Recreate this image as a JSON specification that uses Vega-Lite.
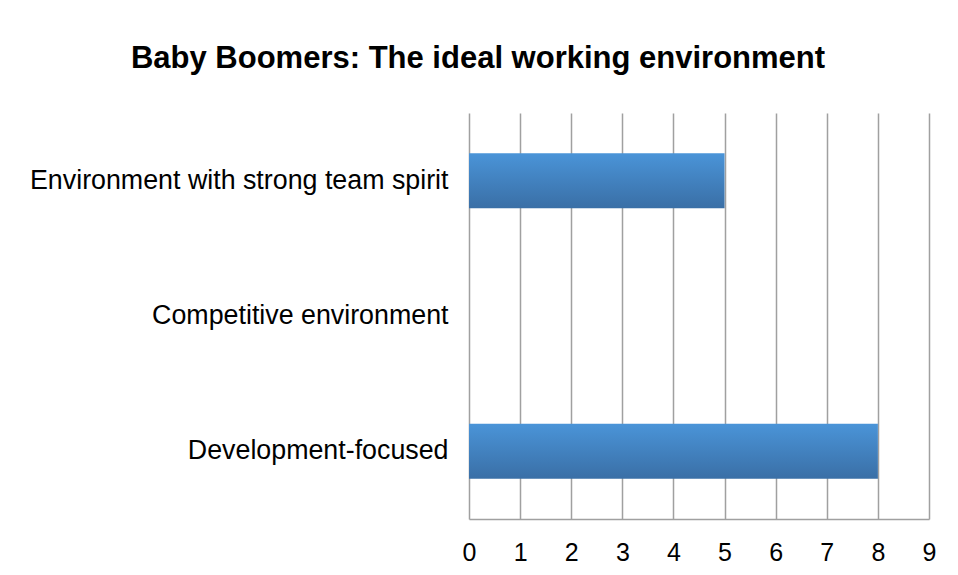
{
  "$schema": "https://vega.github.io/schema/vega-lite/v6.json",
  "autosize": "none",
  "width": 460,
  "height": 406,
  "padding": {"left": 469, "top": 113, "right": 29, "bottom": 56},
  "background": "white",
  "title": {
    "text": "Baby Boomers: The ideal working environment",
    "font": "Liberation Sans",
    "fontSize": 31,
    "fontWeight": "bold",
    "color": "black",
    "anchor": "middle",
    "baseline": "alphabetic",
    "offset": 45,
    "dx": -221,
    "dy": 31
  },
  "data": {
    "values": [
      {"category": "Environment with strong team spirit", "value": 5},
      {"category": "Competitive environment", "value": 0},
      {"category": "Development-focused", "value": 8}
    ]
  },
  "mark": {
    "type": "bar",
    "color": {
      "gradient": "linear",
      "x1": 0, "y1": 0, "x2": 0, "y2": 1,
      "stops": [
        {"offset": 0, "color": "#4a94d8"},
        {"offset": 1, "color": "#3a6fa6"}
      ]
    }
  },
  "encoding": {
    "y": {
      "field": "category",
      "type": "nominal",
      "sort": null,
      "scale": {"paddingInner": 0.594, "paddingOuter": 0.297},
      "axis": {
        "title": null,
        "domain": false,
        "ticks": false,
        "grid": false,
        "labelFont": "Liberation Sans",
        "labelFontSize": 26.8,
        "labelColor": "black",
        "labelPadding": 21,
        "labelLimit": 600
      }
    },
    "x": {
      "field": "value",
      "type": "quantitative",
      "scale": {"domain": [0, 9], "nice": false},
      "axis": {
        "title": null,
        "values": [0, 1, 2, 3, 4, 5, 6, 7, 8, 9],
        "domain": true,
        "domainColor": "#a0a0a0",
        "domainWidth": 1.5,
        "ticks": false,
        "grid": true,
        "gridColor": "#a0a0a0",
        "gridWidth": 1.5,
        "labelFlush": false,
        "labelFont": "Liberation Sans",
        "labelFontSize": 25,
        "labelColor": "black",
        "labelPadding": 21
      }
    }
  },
  "config": {
    "view": {"stroke": null}
  }
}
